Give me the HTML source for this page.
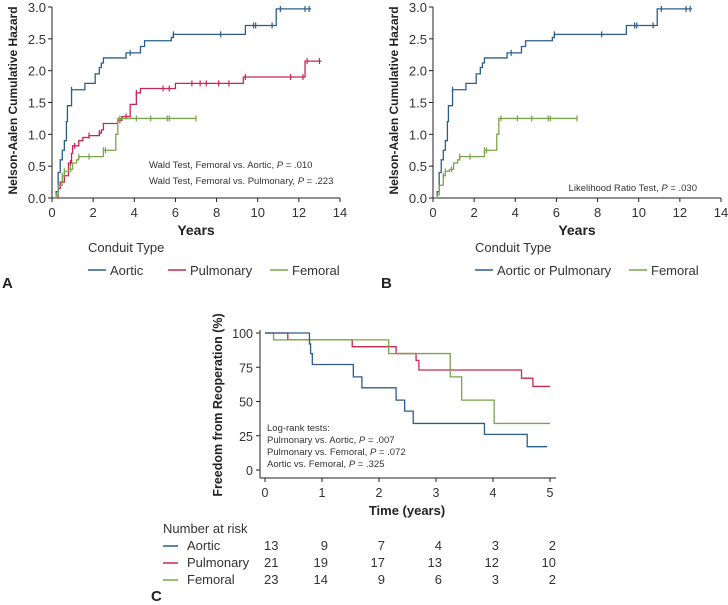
<!DOCTYPE html>
<html><head><meta charset="utf-8"><style>
body{margin:0;background:#fff;}
svg{display:block;font-family:"Liberation Sans",sans-serif;}
</style></head><body>
<svg id="s" width="728" height="605" viewBox="0 0 728 605" xmlns="http://www.w3.org/2000/svg"></svg>
<script>
// Panel A data
const aorticA = [[0.1,0],[0.2,0.1],[0.3,0.4],[0.4,0.6],[0.5,0.75],[0.6,0.9],[0.7,1.2],[0.75,1.45],[0.95,1.7],[1.6,1.8],[2.1,1.95],[2.3,2.05],[2.4,2.12],[2.5,2.2],[3.6,2.28],[4.3,2.38],[4.5,2.47],[5.8,2.52],[5.9,2.57],[9.4,2.71],[10.9,2.97]];
const aorticAEnd = 12.6;
const aorticACens = [0.95,3.8,5.9,8.2,9.8,9.9,10.7,11.1,12.3,12.5];
const pulmA = [[0.1,0],[0.3,0.15],[0.4,0.25],[0.6,0.35],[0.8,0.55],[0.95,0.7],[1.0,0.82],[1.3,0.9],[1.5,0.95],[1.8,0.98],[2.3,1.02],[2.4,1.07],[2.5,1.17],[3.2,1.22],[3.4,1.28],[3.8,1.47],[4.1,1.65],[4.3,1.72],[6.0,1.8],[9.3,1.9],[12.3,2.15]];
const pulmAEnd = 13.1;
const pulmACens = [0.9,1.1,1.8,2.3,3.3,3.6,4.1,5.4,5.7,6.8,7.2,7.5,8.1,8.6,9.4,11.6,12.2,12.4,13.0];
const femA = [[0.1,0],[0.2,0.05],[0.3,0.2],[0.5,0.35],[0.6,0.42],[0.8,0.45],[1.0,0.55],[1.2,0.6],[1.3,0.65],[2.5,0.75],[3.1,1.0],[3.2,1.25]];
const femAEnd = 7.0;
const femACens = [0.5,0.6,0.9,1.3,1.8,2.5,2.6,3.3,4.1,4.8,5.6,5.7,7.0];
// Panel C data
const aorticC = [[0,100],[0.78,92],[0.8,85],[0.83,77],[1.55,68],[1.7,60],[2.3,51],[2.45,43],[2.6,34],[3.85,26],[4.6,17]];
const aorticCEnd = 4.95;
const pulmC = [[0,100],[0.4,95],[1.53,90],[2.3,85],[2.65,80],[2.7,73],[4.5,67],[4.7,61]];
const pulmCEnd = 5.0;
const femC = [[0,100],[0.15,95],[2.17,85],[3.25,68],[3.45,51],[4.02,34]];
const femCEnd = 5.0;
const hazTicks = ["0.0","0.5","1.0","1.5","2.0","2.5","3.0"];
const yearTicks = ["0","2","4","6","8","10","12","14"];
const survTicks = ["0","25","50","75","100"];
const timeTicks = ["0","1","2","3","4","5"];
const riskGroups = ["Aortic","Pulmonary","Femoral"];
const riskAortic = [13,9,7,4,3,2];
const riskPulm = [21,19,17,13,12,10];
const riskFem = [23,14,9,6,3,2];

const BLUE="#2c5d8a", RED="#c92650", GREEN="#7aa54a";
const S=document.getElementById('s');
const NS="http://www.w3.org/2000/svg";
function el(t,a,txt,p){const e=document.createElementNS(NS,t);for(const k in a)e.setAttribute(k,a[k]);if(txt!=null)e.textContent=txt;(p||S).appendChild(e);return e;}

function stepPath(pts,end,xf,yf){let d="M"+xf(pts[0][0])+","+yf(pts[0][1]);for(let i=1;i<pts.length;i++){d+="H"+xf(pts[i][0])+"V"+yf(pts[i][1]);}d+="H"+xf(end);return d;}
function valAt(pts,t){let v=pts[0][1];for(const p of pts){if(p[0]<=t)v=p[1];}return v;}

function hazPanel(ox,series,name,note){
  const x0=ox, x1=ox+288, y0=198, y1=7;
  const xf=t=>x0+(t/14)*(x1-x0), yf=v=>y0-(v/3)*(y0-y1);
  const g=el('g',{});
  
  el('line',{x1:x0,y1:y1,x2:x0,y2:y0,stroke:'#222','stroke-width':1},null,g);
  el('line',{x1:x0,y1:y0,x2:x1,y2:y0,stroke:'#222','stroke-width':1},null,g);
  hazTicks.forEach(l=>{const y=yf(parseFloat(l));el('line',{x1:x0-4,y1:y,x2:x0,y2:y,stroke:'#222'},null,g);el('text',{x:x0-6,y:y+5,'text-anchor':'end','font-size':13,fill:'#333'},l,g);});
  yearTicks.forEach(l=>{const x=xf(parseFloat(l));el('line',{x1:x,y1:y0,x2:x,y2:y0+4,stroke:'#222'},null,g);el('text',{x:x,y:y0+19,'text-anchor':'middle','font-size':13,fill:'#333'},l,g);});
  el('text',{x:(x0+x1)/2,y:235,'text-anchor':'middle','font-size':14,'font-weight':'bold',fill:'#222'},'Years',g);
  el('text',{x:0,y:0,transform:`translate(${x0-35},${(y0+y1)/2-2}) rotate(-90)`,'text-anchor':'middle','font-size':12,'font-weight':'bold',fill:'#222'},'Nelson-Aalen Cumulative Hazard',g);
  series.forEach(s=>{
    el('path',{d:stepPath(s.pts,s.end,xf,yf),fill:'none',stroke:s.c,'stroke-width':1.3},null,g);
    s.cens.forEach(t=>{const x=xf(t),y=yf(valAt(s.pts,t));el('line',{x1:x,y1:y-3,x2:x,y2:y+3,stroke:s.c,'stroke-width':1.2},null,g);});
  });
  note.forEach(n=>el('text',{x:n.x,y:n.y,'font-size':9.5,fill:'#333','text-anchor':n.a||'start'},null,g).innerHTML=n.h);
}
const A=[{pts:aorticA,end:aorticAEnd,cens:aorticACens,c:BLUE},{pts:pulmA,end:pulmAEnd,cens:pulmACens,c:RED},{pts:femA,end:femAEnd,cens:femACens,c:GREEN}];
hazPanel(52,A,'panel-a-chart',[{x:149,y:168,h:'Wald Test, Femoral vs. Aortic, <tspan font-style="italic">P</tspan> = .010'},{x:149,y:184,h:'Wald Test, Femoral vs. Pulmonary, <tspan font-style="italic">P</tspan> = .223'}]);
const B=[{pts:aorticA,end:aorticAEnd,cens:aorticACens,c:BLUE},{pts:femA,end:femAEnd,cens:femACens,c:GREEN}];
hazPanel(433,B,'panel-b-chart',[{x:697,y:191,a:'end',h:'Likelihood Ratio Test, <tspan font-style="italic">P</tspan> = .030'}]);

// legends
function legend(x,y,items,name){const g=el('g',{});
  el('text',{x:x,y:y,'font-size':13,fill:'#333'},'Conduit Type',g);
  let cx=x;items.forEach(it=>{el('line',{x1:cx,y1:y+18,x2:cx+18,y2:y+18,stroke:it.c,'stroke-width':1.5},null,g);const t=el('text',{x:cx+22,y:y+23,'font-size':13,fill:'#333'},it.l,g);cx+=22+it.w;});}
legend(88,252,[{l:'Aortic',c:BLUE,w:58},{l:'Pulmonary',c:RED,w:80},{l:'Femoral',c:GREEN,w:60}],'legend-a');
legend(475,252,[{l:'Aortic or Pulmonary',c:BLUE,w:132},{l:'Femoral',c:GREEN,w:60}],'legend-b');
el('text',{x:2,y:288,'font-size':15,'font-weight':'bold',fill:'#222'},'A');
el('text',{x:381,y:288,'font-size':15,'font-weight':'bold',fill:'#222'},'B');

// Panel C
(function(){
  const x0=265,x1=550,y0=470,y1=333;
  const xf=t=>x0+(t/5)*(x1-x0), yf=v=>y0-(v/100)*(y0-y1);
  const g=el('g',{});
  el('line',{x1:260,y1:330,x2:260,y2:478,stroke:'#222'},null,g);
  el('line',{x1:260,y1:478,x2:556,y2:478,stroke:'#222'},null,g);
  survTicks.forEach(l=>{const y=yf(+l);el('line',{x1:256,y1:y,x2:260,y2:y,stroke:'#222'},null,g);el('text',{x:253,y:y+5,'text-anchor':'end','font-size':12.5,fill:'#333'},l,g);});
  timeTicks.forEach(l=>{const x=xf(+l);el('line',{x1:x,y1:478,x2:x,y2:482,stroke:'#222'},null,g);el('text',{x:x,y:497,'text-anchor':'middle','font-size':12.5,fill:'#333'},l,g);});
  el('text',{x:407,y:515,'text-anchor':'middle','font-size':13,'font-weight':'bold',fill:'#222'},'Time (years)',g);
  el('text',{x:0,y:0,transform:'translate(222,405) rotate(-90)','text-anchor':'middle','font-size':12.5,'font-weight':'bold',fill:'#222'},'Freedom from Reoperation (%)',g);
  [[pulmC,pulmCEnd,RED],[femC,femCEnd,GREEN],[aorticC,aorticCEnd,BLUE]].forEach(s=>el('path',{d:stepPath(s[0],s[1],xf,yf),fill:'none',stroke:s[2],'stroke-width':1.3},null,g));
  const notes=['Log-rank tests:','Pulmonary vs. Aortic, <tspan font-style="italic">P</tspan> = .007','Pulmonary vs. Femoral, <tspan font-style="italic">P</tspan> = .072','Aortic vs. Femoral, <tspan font-style="italic">P</tspan> = .325'];
  notes.forEach((n,i)=>el('text',{x:267,y:431+i*12,'font-size':9.5,fill:'#333'},null,g).innerHTML=n);
  const r=el('g',{});
  el('text',{x:163,y:533,'font-size':13,fill:'#333'},'Number at risk',r);
  const rows=[riskAortic,riskPulm,riskFem],cols=[BLUE,RED,GREEN];
  riskGroups.forEach((grp,i)=>{const y=550+i*17;
    el('line',{x1:163,y1:y-4,x2:178,y2:y-4,stroke:cols[i],'stroke-width':1.5},null,r);
    el('text',{x:187,y:y,'font-size':13,fill:'#333'},grp,r);
    rows[i].forEach((v,j)=>el('text',{x:xf(j)+(j==0?-1:6),y:y,'font-size':13,fill:'#333','text-anchor':j==0?'start':'end'},v,r));
  });
  el('text',{x:151,y:601,'font-size':15,'font-weight':'bold',fill:'#222'},'C');
})();
</script>
</body></html>
